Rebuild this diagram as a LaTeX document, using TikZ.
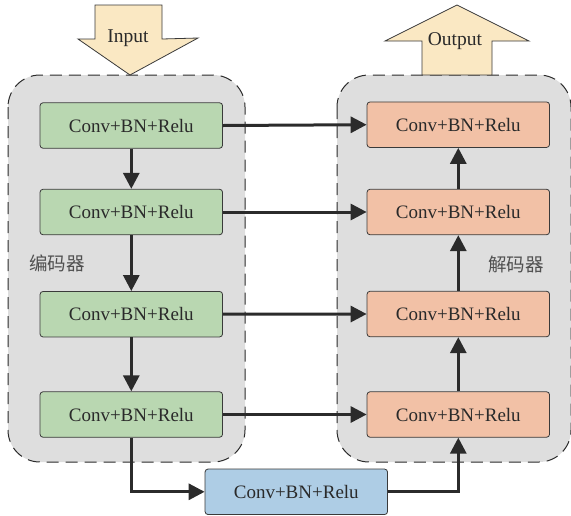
\documentclass[tikz,border=0pt]{standalone}
\usepackage{fontspec}
\setmainfont{Liberation Serif}
\newfontfamily\cjk{Noto Sans CJK SC}
\usetikzlibrary{arrows.meta}
\definecolor{contfill}{HTML}{DEDEDE}
\definecolor{edge}{HTML}{3A3A3A}
\definecolor{greenbox}{HTML}{B9D7B1}
\definecolor{salmonbox}{HTML}{F2C1A6}
\definecolor{bluebox}{HTML}{AECDE5}
\definecolor{bigarrow}{HTML}{FAE8C3}
\definecolor{linecol}{HTML}{2B2B2B}
\definecolor{txt}{HTML}{2A2A2A}
\definecolor{labelcol}{HTML}{505050}
\begin{document}
\begin{tikzpicture}[x=1pt,y=-1pt,
  container/.style={fill=contfill,draw=linecol,line width=1pt,dash pattern=on 12pt off 7pt,rounded corners=32pt},
  boxbase/.style={draw=edge,line width=0.8pt,rounded corners=3pt,minimum width=182.5pt,minimum height=45.5pt,inner sep=0pt,text=txt,font=\fontsize{19}{22}\selectfont},
  encbox/.style={boxbase,fill=greenbox},
  decbox/.style={boxbase,fill=salmonbox},
  midbox/.style={boxbase,fill=bluebox},
  arr/.style={draw=linecol,line width=3pt,-{Triangle[length=16pt,width=16pt]}},
  bigarr/.style={fill=bigarrow,draw=edge,line width=0.8pt},
  arrtext/.style={text=txt,font=\fontsize{19.5}{22}\selectfont,inner sep=0pt},
  sidelabel/.style={text=labelcol,font=\cjk\fontsize{18.5}{22}\selectfont,inner sep=0pt}]
\useasboundingbox (0,0) rectangle (571,515);
% containers
\draw[container] (8,75) rectangle (245,462);
\draw[container] (337,75) rectangle (571,462);
% big input/output arrows
\draw[bigarr] (95,5) -- (162,5) -- (162,39) -- (198,38) -- (130,75) -- (78,39) -- (95,39) -- cycle;
\node[arrtext] (inlabel) at (128,38) {Input};
\draw[bigarr] (422,75) -- (422,41) -- (385,41) -- (457,5) -- (529,41) -- (492,41) -- (492,75) -- cycle;
\node[arrtext] (outlabel) at (455,41) {Output};
% side labels
\node[sidelabel] (enclabel) at (57,263) {编码器};
\node[sidelabel] (declabel) at (516,264) {解码器};
% boxes
\node[encbox] (e1) at (131.3,125.5) {Conv+BN+Relu};
\node[encbox] (e2) at (131.3,212) {Conv+BN+Relu};
\node[encbox] (e3) at (131.3,314.2) {Conv+BN+Relu};
\node[encbox] (e4) at (131.3,414.5) {Conv+BN+Relu};
\node[decbox] (d1) at (458.3,124.7) {Conv+BN+Relu};
\node[decbox] (d2) at (458.3,212) {Conv+BN+Relu};
\node[decbox] (d3) at (458.3,314) {Conv+BN+Relu};
\node[decbox] (d4) at (458.3,414.5) {Conv+BN+Relu};
\node[midbox] (m) at (296.3,491.8) {Conv+BN+Relu};
% connectors
\draw[arr] (e1.south) -- (e2.north);
\draw[arr] (e2.south) -- (e3.north);
\draw[arr] (e3.south) -- (e4.north);
\draw[arr] (e4.south) |- (m.west);
\draw[arr] (m.east) -| (d4.south);
\draw[arr] (d4.north) -- (d3.south);
\draw[arr] (d3.north) -- (d2.south);
\draw[arr] (d2.north) -- (d1.south);
\draw[arr] (e1.east) -- (d1.west);
\draw[arr] (e2.east) -- (d2.west);
\draw[arr] (e3.east) -- (d3.west);
\draw[arr] (e4.east) -- (d4.west);
\end{tikzpicture}
\end{document}
